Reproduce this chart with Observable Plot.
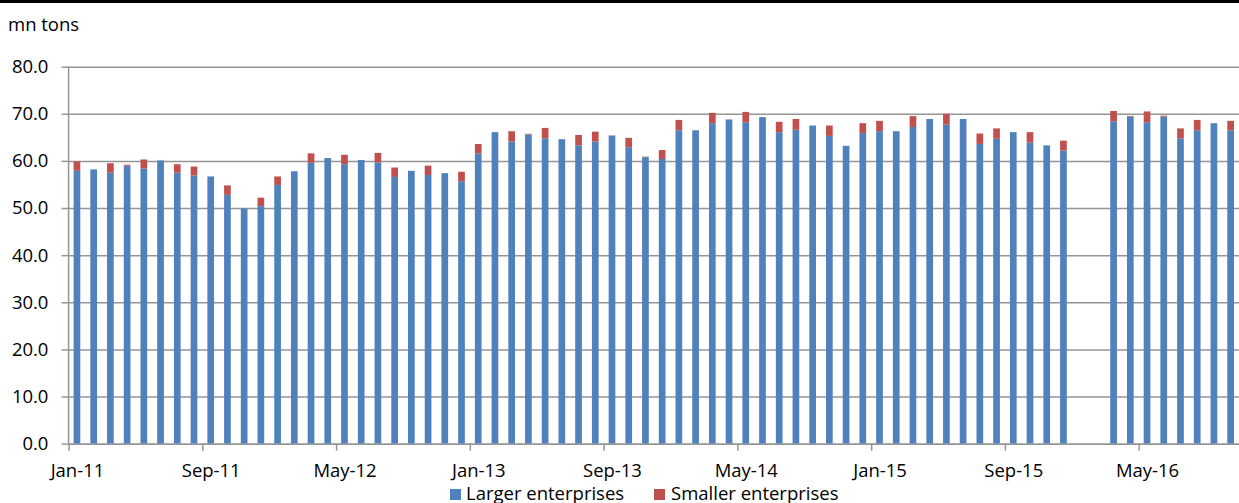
<!DOCTYPE html>
<html><head><meta charset="utf-8">
<script src="https://cdn.jsdelivr.net/npm/d3@7"></script>
<script src="https://cdn.jsdelivr.net/npm/@observablehq/plot@0.6"></script>
<style>
html,body{margin:0;padding:0;background:#fff;overflow:hidden;}
body{width:1239px;height:503px;position:relative;font-family:"Open Sans",sans-serif;color:#000;}
#topline{position:absolute;left:0;top:0;width:1239px;height:3px;background:#000;}
#unit{position:absolute;left:8px;top:15px;font-size:18.5px;line-height:18.5px;white-space:nowrap;}
#chart{position:absolute;left:0;top:40px;}
.lg{position:absolute;top:484px;font-size:18.5px;line-height:18.5px;white-space:nowrap;}
.sw{position:absolute;top:489px;width:11px;height:11px;}
</style>
</head><body>
<div id="topline"></div>
<div id="unit">mn tons</div>
<div id="chart"></div>
<div id="legend"></div>
<script>
// Categories: monthly, Jan-2011 .. Oct-2016
const months = d3.utcMonth.range(new Date(Date.UTC(2011,0,1)), new Date(Date.UTC(2016,10,1))).map(d3.utcFormat("%b-%y"));
const labelMonths = ["Jan-11","Sep-11","May-12","Jan-13","Sep-13","May-14","Jan-15","Sep-15","May-16"];
const yTicks = [0,10,20,30,40,50,60,70,80];
const seriesNames = ["Larger enterprises","Smaller enterprises"];
const seriesColors = ["#4F81BD","#C0504D"];

const larger = [
  57.9,58.2,57.5,59.0,58.4,60.1,57.5,56.9,56.7,52.8,49.9,50.4,
  54.9,57.8,59.6,60.6,59.3,60.2,59.7,56.6,57.9,57.0,57.4,55.7,
  61.6,66.1,64.1,65.6,64.8,64.6,63.3,64.1,65.4,62.9,60.8,60.4,
  66.5,66.5,68.0,68.8,68.2,69.3,66.1,66.6,67.5,65.3,63.2,65.9,
  66.3,66.3,67.2,68.9,67.7,68.9,63.6,64.7,66.1,63.9,63.3,62.2,
  null,null,68.4,69.4,68.2,69.4,64.8,66.5,68.0,66.5
];
const smaller = [
  2.0,0,2.0,0.2,1.9,0,1.8,1.9,0,2.0,0,1.8,
  1.8,0,2.0,0,2.0,0,2.0,2.0,0,2.0,0,2.0,
  2.0,0,2.2,0.15,2.2,0,2.2,2.1,0,2.0,0.1,1.9,
  2.2,0,2.2,0,2.2,0,2.2,2.3,0,2.2,0,2.1,
  2.2,0,2.3,0,2.3,0,2.2,2.2,0,2.2,0,2.1,
  null,null,2.2,0.15,2.3,0.2,2.1,2.2,0,2.0
];

const rows = [];
months.forEach((m, i) => {
  if (larger[i] != null) rows.push({month: m, series: seriesNames[0], value: larger[i]});
  if (smaller[i]) rows.push({month: m, series: seriesNames[1], value: smaller[i]});
});

const W = 1241, ML = 68.7;
const step = (W - ML) / months.length;
const grid = "#959595";

const axisLine = (index, scales, values, dimensions) => {
  const g = d3.create("svg:g");
  g.append("line")
    .attr("x1", dimensions.marginLeft).attr("x2", dimensions.marginLeft)
    .attr("y1", scales.y(yTicks[yTicks.length-1])).attr("y2", scales.y(0))
    .attr("stroke", grid).attr("stroke-width", 1.5);
  return g.node();
};

const chart = Plot.plot({
  width: W, height: 445,
  marginLeft: ML, marginRight: 0, marginTop: 26.7, marginBottom: 40.7,
  style: {fontFamily: "'Open Sans', sans-serif", fontSize: "18.5px", color: "#000", background: "#fff", overflow: "visible"},
  x: {type: "band", domain: months, paddingInner: 0.6, paddingOuter: 0.3, align: 0.5},
  y: {domain: [0, 80]},
  color: {domain: seriesNames, range: seriesColors},
  marks: [
    Plot.gridY(yTicks, {stroke: grid, strokeOpacity: 1, strokeWidth: 1.5}),
    Plot.barY(rows, Plot.stackY({x: "month", y: "value", fill: "series", order: seriesNames})),
    Plot.ruleY([0], {stroke: grid, strokeWidth: 1.5}),
    axisLine,
    Plot.axisY(yTicks, {tickSize: 7, tickPadding: 13.7, tickFormat: d => d.toFixed(1), stroke: grid, strokeWidth: 1.5, fill: "#000", fontSize: 18.5, label: null}),
    Plot.axisX(labelMonths, {tickSize: 0, tickPadding: 20.2, fill: "#000", fontSize: 18.5, label: null}),
    Plot.axisX(labelMonths, {tickSize: 7, tickFormat: () => "", dx: -step/2, stroke: grid, strokeWidth: 1.5, label: null})
  ]
});
document.getElementById("chart").appendChild(chart);

// Legend
const legend = document.getElementById("legend");
const lgPos = [{sw: 450, tx: 466}, {sw: 654, tx: 671}];
seriesNames.forEach((name, i) => {
  const s = document.createElement("div");
  s.className = "sw"; s.style.left = lgPos[i].sw + "px"; s.style.background = seriesColors[i];
  legend.appendChild(s);
  const t = document.createElement("div");
  t.className = "lg"; t.style.left = lgPos[i].tx + "px"; t.textContent = name;
  legend.appendChild(t);
});
</script>
</body></html>
